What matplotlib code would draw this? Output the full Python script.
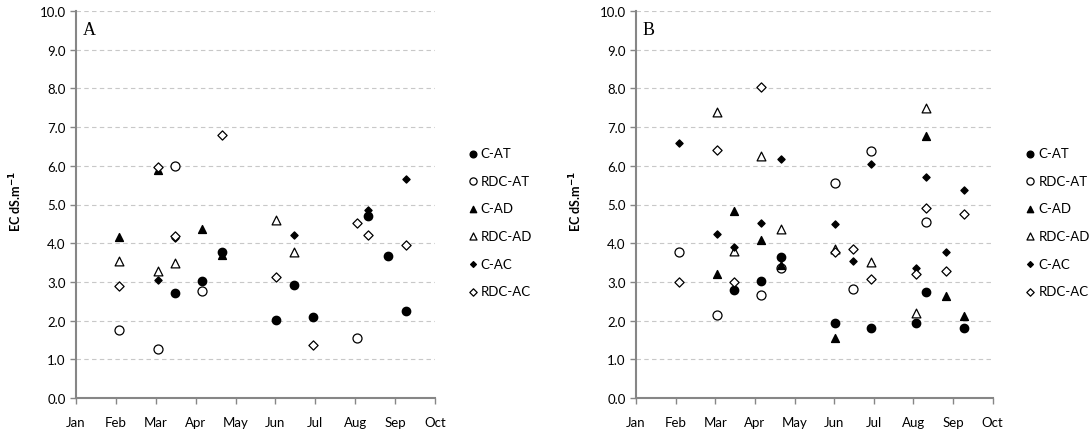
import numpy as np
import pandas as pd
import matplotlib
matplotlib.use('Agg')
import matplotlib.pyplot as plt

plt.rcParams['font.family'] = ['Lato', 'DejaVu Sans']

months = ['Jan', 'Feb', 'Mar', 'Apr', 'May', 'Jun', 'Jul', 'Aug', 'Sep', 'Oct']
series = ['C-AT', 'RDC-AT', 'C-AD', 'RDC-AD', 'C-AC', 'RDC-AC']

# panel A
a_cat_d = ['03-17', '04-07', '04-22', '06-02', '06-16', '06-30', '08-11', '08-26', '09-09']
a_cat_v = [2.72, 3.02, 3.78, 2.02, 2.92, 2.10, 4.69, 3.66, 2.26]
a_rat_d = ['02-03', '03-04', '03-17', '04-07', '08-03']
a_rat_v = [1.76, 1.27, 6.00, 2.76, 1.54]
a_cad_d = ['02-03', '03-04', '04-07', '04-22']
a_cad_v = [4.17, 5.88, 4.37, 3.70]
a_rad_d = ['02-03', '03-04', '03-17', '06-02', '06-16']
a_rad_v = [3.53, 3.29, 3.48, 4.61, 3.78]
a_cac_d = ['03-04', '03-17', '06-16', '08-11', '09-09']
a_cac_v = [3.05, 4.13, 4.22, 4.87, 5.65]
a_rac_d = ['02-03', '03-04', '03-17', '04-22', '06-02', '06-30', '08-03', '08-11', '09-09']
a_rac_v = [2.89, 5.98, 4.18, 6.80, 3.12, 1.37, 4.52, 4.22, 3.96]

# panel B
b_cat_d = ['03-17', '04-07', '04-22', '06-02', '06-30', '08-03', '08-11', '09-09']
b_cat_v = [2.79, 3.03, 3.65, 1.94, 1.82, 1.94, 2.73, 1.81]
b_rat_d = ['02-03', '03-04', '04-07', '04-22', '06-02', '06-16', '06-30', '08-11']
b_rat_v = [3.76, 2.14, 2.66, 3.35, 5.55, 2.82, 6.38, 4.56]
b_cad_d = ['03-04', '03-17', '04-07', '04-22', '06-02', '08-11', '08-26', '09-09']
b_cad_v = [3.20, 4.83, 4.09, 3.43, 1.54, 6.78, 2.64, 2.11]
b_rad_d = ['03-04', '03-17', '04-07', '04-22', '06-02', '06-30', '08-03', '08-11']
b_rad_v = [7.38, 3.79, 6.26, 4.36, 3.85, 3.52, 2.20, 7.49]
b_cac_d = ['02-03', '03-04', '03-17', '04-07', '04-22', '06-02', '06-16', '06-30',
           '08-03', '08-11', '08-26', '09-09']
b_cac_v = [6.59, 4.25, 3.91, 4.51, 6.18, 4.49, 3.54, 6.04, 3.35, 5.70, 3.78, 5.37]
b_rac_d = ['02-03', '03-04', '03-17', '04-07', '06-02', '06-16', '06-30', '08-03',
           '08-11', '08-26', '09-09']
b_rac_v = [3.01, 6.41, 3.01, 8.04, 3.76, 3.85, 3.07, 3.20, 4.90, 3.29, 4.75]

styles = {
    'C-AT': dict(marker='o', s=36, c='black', edgecolors='black'),
    'RDC-AT': dict(marker='o', s=42, c='white', edgecolors='black', linewidths=0.9),
    'C-AD': dict(marker='^', s=32, c='black', edgecolors='black'),
    'RDC-AD': dict(marker='^', s=40, c='white', edgecolors='black', linewidths=0.9),
    'C-AC': dict(marker='D', s=13, c='black', edgecolors='black'),
    'RDC-AC': dict(marker='D', s=22, c='white', edgecolors='black', linewidths=0.9),
}

def doy(md):
    t = pd.Timestamp('2011-' + md)
    return (t - pd.Timestamp('2011-01-01')).days

def panel(ax, letter, data):
    for name, (d, v) in zip(series, data):
        ax.scatter([doy(x) for x in d], v, label=name, zorder=3, **styles[name])
    ax.set_xlim(0, 273)
    ax.set_ylim(0, 10)
    ax.set_xticks(np.linspace(0, 273, 10))
    ax.set_xticklabels(months)
    ax.set_yticks(np.arange(0, 11, 1))
    ax.set_yticklabels(['%.1f' % y for y in range(11)])
    ax.grid(axis='y', color='#c8c8c8', linestyle=(0, (4, 3)), linewidth=0.8)
    ax.set_axisbelow(True)
    for s in ['top', 'right']:
        ax.spines[s].set_visible(False)
    for s in ['left', 'bottom']:
        ax.spines[s].set_color('#868686')
        ax.spines[s].set_linewidth(1.5)
    ax.tick_params(axis='both', colors='#868686', labelcolor='black', labelsize=9.5,
                   length=4, width=1)
    ax.tick_params(axis='x', pad=9)
    ax.set_ylabel(r'EC dS.m$^{\mathbf{-1}}$', fontsize=9, fontweight='bold')
    ax.yaxis.set_label_coords(-0.145, 0.509)
    ax.text(0.018, 0.975, letter, transform=ax.transAxes, fontsize=13,
            family='Liberation Serif', va='top', ha='left')
    ax.legend(loc='upper left', bbox_to_anchor=(1.078, 0.665), frameon=False,
              fontsize=9.5, handlelength=0.5, handletextpad=0.35, labelspacing=1.18,
              borderpad=0, markerscale=0.8)

fig = plt.figure(figsize=(10.9, 4.35), dpi=100)
axA = fig.add_axes([76 / 1090, 1 - 399 / 435, 359 / 1090, 387 / 435])
axB = fig.add_axes([636 / 1090, 1 - 399 / 435, 356.7 / 1090, 387 / 435])

panel(axA, 'A', [(a_cat_d, a_cat_v), (a_rat_d, a_rat_v), (a_cad_d, a_cad_v),
                 (a_rad_d, a_rad_v), (a_cac_d, a_cac_v), (a_rac_d, a_rac_v)])
panel(axB, 'B', [(b_cat_d, b_cat_v), (b_rat_d, b_rat_v), (b_cad_d, b_cad_v),
                 (b_rad_d, b_rad_v), (b_cac_d, b_cac_v), (b_rac_d, b_rac_v)])

fig.savefig('out.png', dpi=100)
